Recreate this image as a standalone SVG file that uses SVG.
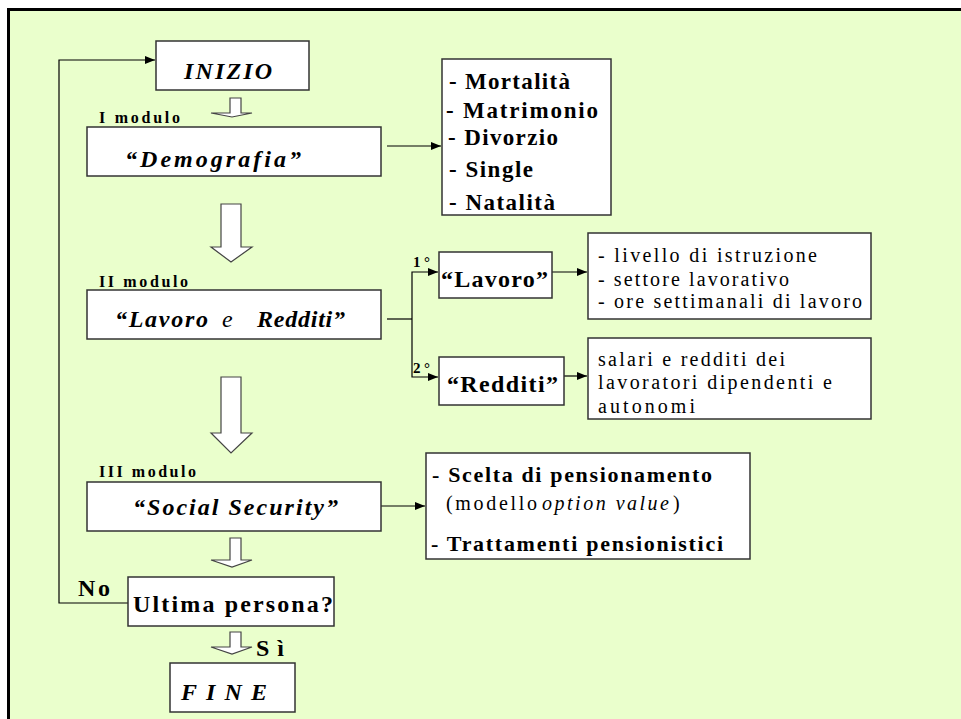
<svg xmlns="http://www.w3.org/2000/svg" width="961" height="719" viewBox="0 0 961 719">
<defs>
<marker id="ah" viewBox="0 0 10 8" refX="10" refY="4" markerWidth="10" markerHeight="8" markerUnits="userSpaceOnUse" orient="auto">
<path d="M0,0 L10,4 L0,8 Z" fill="#000"/>
</marker>
<style>
.box{fill:#fff;stroke:#333;stroke-width:1.5}
.blk{fill:#fff;stroke:#444;stroke-width:1.2}
.con{fill:none;stroke:#000;stroke-width:1.2}
.bi{font-weight:bold;font-style:italic;font-size:24px}
.b{font-weight:bold;font-size:24px}
.mod{font-weight:bold;font-size:16px}
.lst{font-weight:bold;font-size:23px}
.r{font-size:20px}
.it{font-style:italic;font-size:20px}
.bs{font-weight:bold;font-size:22px}
.deg{font-weight:bold;font-size:15px}
</style>
</defs>
<rect x="0" y="0" width="961" height="719" fill="#fff"/>
<rect x="8.5" y="9.5" width="970" height="720" fill="#EAFFCC" stroke="#000" stroke-width="3"/>

<g id="connectors">
<polyline class="con" points="128,603 59,603 59,60 155,60" marker-end="url(#ah)"/>
<line class="con" x1="387" y1="146" x2="441" y2="146" marker-end="url(#ah)"/>
<polyline class="con" points="387,319 412,319"/>
<polyline class="con" points="412,319 412,272 438,272" marker-end="url(#ah)"/>
<polyline class="con" points="412,319 412,377 438,377" marker-end="url(#ah)"/>
<line class="con" x1="552" y1="272" x2="587" y2="272" marker-end="url(#ah)"/>
<line class="con" x1="564" y1="376" x2="587" y2="376" marker-end="url(#ah)"/>
<line class="con" x1="381" y1="506" x2="425" y2="506" marker-end="url(#ah)"/>
<polygon class="blk" points="230,98 241,98 241,113 252,113 232,117 211,113 230,113"/>
<polygon class="blk" points="221,204 241,204 241,247 252,247 231,262 211,247 221,247"/>
<polygon class="blk" points="221,377 241,377 241,433 252,433 231,453 211,433 221,433"/>
<polygon class="blk" points="230,538 241,538 241,560 252,560 232,567 211,560 230,560"/>
<polygon class="blk" points="230,632 241,632 241,647 252,647 232,654 211,647 230,647"/>
</g>

<g font-family="'Liberation Serif', 'Times New Roman', serif" fill="#000">
<g id="inizio">
<rect class="box" x="156" y="41" width="153" height="49"/>
<text class="bi" x="184" y="79" textLength="88" lengthAdjust="spacing">INIZIO</text>
</g>

<g id="demografia">
<text class="mod" x="99" y="123" textLength="81" lengthAdjust="spacing">I modulo</text>
<rect class="box" x="87" y="127" width="294" height="49"/>
<text class="bi" x="125" y="167" textLength="176" lengthAdjust="spacing">“Demografia”</text>
</g>

<g id="demografia-list">
<rect class="box" x="442" y="59" width="169" height="156"/>
<text class="lst" x="449" y="89" textLength="121" lengthAdjust="spacing">- Mortalità</text>
<text class="lst" x="446" y="118" textLength="152" lengthAdjust="spacing">- Matrimonio</text>
<text class="lst" x="448" y="145" textLength="110" lengthAdjust="spacing">- Divorzio</text>
<text class="lst" x="449" y="177" textLength="84" lengthAdjust="spacing">- Single</text>
<text class="lst" x="449" y="210" textLength="106" lengthAdjust="spacing">- Natalità</text>
</g>

<g id="lavoro-redditi">
<text class="mod" x="99" y="287" textLength="89" lengthAdjust="spacing">II modulo</text>
<rect class="box" x="87" y="290" width="294" height="49"/>
<text class="bi" x="115" y="327" textLength="93" lengthAdjust="spacing">“Lavoro</text>
<text x="222" y="327" font-style="italic" font-size="24" textLength="11" lengthAdjust="spacing">e</text>
<text class="bi" x="257" y="327" textLength="88" lengthAdjust="spacing">Redditi”</text>
</g>

<g id="labels-order">
<text class="deg" x="413" y="267" textLength="17" lengthAdjust="spacing">1°</text>
<text class="deg" x="413" y="373" textLength="17" lengthAdjust="spacing">2°</text>
</g>

<g id="lavoro">
<rect class="box" x="439" y="252" width="113" height="46"/>
<text class="b" x="441" y="287" textLength="107" lengthAdjust="spacing">“Lavoro”</text>
</g>

<g id="lavoro-details">
<rect class="box" x="588" y="233" width="283" height="86"/>
<text class="r" x="598" y="262" textLength="219" lengthAdjust="spacing">-  livello di istruzione</text>
<text class="r" x="598" y="286" textLength="191" lengthAdjust="spacing">- settore lavorativo</text>
<text class="r" x="598" y="308" textLength="264" lengthAdjust="spacing">- ore settimanali di lavoro</text>
</g>

<g id="redditi">
<rect class="box" x="439" y="357" width="125" height="48"/>
<text class="b" x="447" y="392" textLength="111" lengthAdjust="spacing">“Redditi”</text>
</g>

<g id="redditi-details">
<rect class="box" x="588" y="338" width="283" height="81"/>
<text class="r" x="598" y="366" textLength="187" lengthAdjust="spacing">salari e redditi dei</text>
<text class="r" x="598" y="389" textLength="234" lengthAdjust="spacing">lavoratori dipendenti e</text>
<text class="r" x="598" y="413" textLength="97" lengthAdjust="spacing">autonomi</text>
</g>

<g id="social-security">
<text class="mod" x="99" y="477" textLength="97" lengthAdjust="spacing">III modulo</text>
<rect class="box" x="87" y="482" width="294" height="49"/>
<text class="bi" x="133" y="515" textLength="205" lengthAdjust="spacing">“Social Security”</text>
</g>

<g id="social-details">
<rect class="box" x="426" y="453" width="324" height="106"/>
<text class="bs" x="432" y="482" textLength="280" lengthAdjust="spacing">- Scelta di pensionamento</text>
<text class="r" x="446" y="510" textLength="91" lengthAdjust="spacing">(modello</text>
<text class="it" x="542" y="510" textLength="127" lengthAdjust="spacing">option value</text>
<text class="r" x="673" y="510">)</text>
<text class="bs" x="431" y="551" textLength="292" lengthAdjust="spacing">- Trattamenti pensionistici</text>
</g>

<g id="ultima">
<text class="b" x="78" y="596" textLength="32" lengthAdjust="spacing">No</text>
<rect class="box" x="128" y="577" width="206" height="49"/>
<text class="b" x="133" y="612" textLength="200" lengthAdjust="spacing">Ultima persona?</text>
<text class="b" x="256" y="656" textLength="28" lengthAdjust="spacing">Sì</text>
</g>

<g id="fine">
<rect class="box" x="170" y="663" width="125" height="49"/>
<text class="bi" x="181" y="700" textLength="86" lengthAdjust="spacing">FINE</text>
</g>
</g>
</svg>
